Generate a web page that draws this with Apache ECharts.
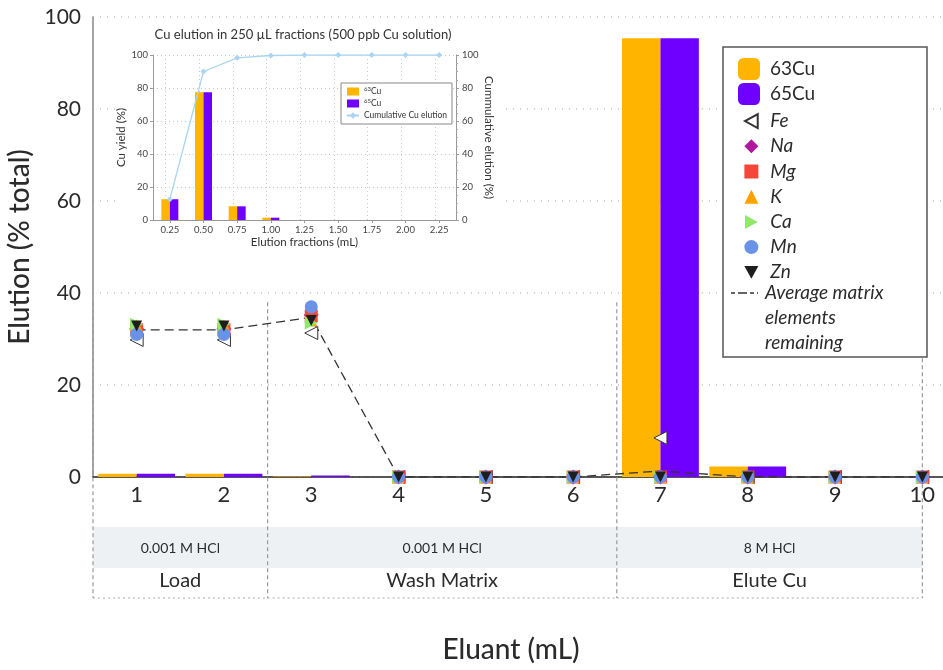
<!DOCTYPE html>
<html><head><meta charset="utf-8">
<script src="https://cdn.jsdelivr.net/npm/echarts@6/dist/echarts.min.js"></script>
<style>html,body{margin:0;padding:0;background:#fff}#c{width:943px;height:670px}</style>
</head><body><div id="c"></div>
<script>
// ---------- data ----------
const categories = ['1','2','3','4','5','6','7','8','9','10'];
const cu63 = [0.7, 0.7, 0.1, 0, 0, 0, 95.4, 2.3, 0, 0];
const cu65 = [0.7, 0.7, 0.3, 0, 0, 0, 95.4, 2.3, 0, 0];
const fe = [29.8, 29.8, 31.3, 0, 0, 0, 8.5, 0, 0, 0];
const na = [32.2, 32.2, 35.2, 0, 0, 0, 0, 0, 0, 0];
const mg = [32.0, 32.0, 35.0, 0, 0, 0, 0, 0, 0, 0];
const k  = [33.0, 33.0, 34.0, 0, 0, 0, 0, 0, 0, 0];
const ca = [33.2, 33.2, 33.5, 0, 0, 0, 0, 0, 0, 0];
const mn = [31.0, 31.0, 37.0, 0, 0, 0, 0, 0, 0, 0];
const zn = [32.8, 32.8, 34.0, 0, 0, 0, 0, 0, 0, 0];
const avgMatrix = [32.0, 32.0, 34.7, 0, 0, 0, 1.3, 0, 0, 0];
const yTicks = [0, 20, 40, 60, 80, 100];

const sectionStarts = [0.5, 2.5, 6.5];
const sectionEnds = [2.5, 6.5, 10];
const sectionSolutions = ['0.001 M HCl', '0.001 M HCl', '8 M HCl'];
const sectionNames = ['Load', 'Wash Matrix', 'Elute Cu'];
const bracketTop = 38;

const insetCategories = ['0.25','0.50','0.75','1.00','1.25','1.50','1.75','2.00','2.25'];
const inset63 = [12.6, 77.5, 8.3, 1.4, 0, 0, 0, 0, 0];
const inset65 = [12.6, 77.5, 8.3, 1.4, 0, 0, 0, 0, 0];
const insetCumulative = [12.6, 90, 98.3, 99.7, 100, 100, 100, 100, 100];

// ---------- styles ----------
const FONT = 'Lato, "Noto Sans", sans-serif';
const TXT = '#2b2b2b';
const C63 = '#FFB400', C65 = '#6F00FF';
const AVG_NAME = 'Average matrix elements remaining';
const TRI_LEFT = 'path://M10,0L0,5.5L10,11Z';
const TRI_RIGHT = 'path://M0,0L10,5.5L0,11Z';
const TRI_DOWN = 'path://M0,0L11,0L5.5,10Z';

const elementSeries = [
  {name:'Fe', data:fe, symbol:'triangle', rotate:90, size:13, color:'#fff', border:'#333', bw:1, icon:TRI_LEFT},
  {name:'Na', data:na, symbol:'diamond', rotate:0, size:15, color:'#B0179E', border:null, bw:0, icon:'diamond'},
  {name:'Mg', data:mg, symbol:'rect', rotate:0, size:13, color:'#F4473A', border:null, bw:0, icon:'rect'},
  {name:'K',  data:k,  symbol:'triangle', rotate:0, size:12, color:'#FFA200', border:null, bw:0, icon:'triangle'},
  {name:'Ca', data:ca, symbol:'triangle', rotate:-90, size:13, color:'#8EE86A', border:null, bw:0, icon:TRI_RIGHT},
  {name:'Mn', data:mn, symbol:'circle', rotate:0, size:13, color:'#6A93E8', border:null, bw:0, icon:'circle'},
  {name:'Zn', data:zn, symbol:'triangle', rotate:180, size:11, color:'#1e1e1e', border:null, bw:0, icon:TRI_DOWN}
];

const chart = echarts.init(document.getElementById('c'), null, {renderer:'canvas'});

const series = [
  {name:'63Cu', type:'bar', xAxisIndex:0, yAxisIndex:0, data:cu63, barGap:'0%', barCategoryGap:'12%',
   itemStyle:{color:C63}, z:2},
  {name:'65Cu', type:'bar', xAxisIndex:0, yAxisIndex:0, data:cu65, barGap:'0%', barCategoryGap:'12%',
   itemStyle:{color:C65}, z:2},
  {name:AVG_NAME, type:'line', xAxisIndex:0, yAxisIndex:0, data:avgMatrix, symbol:'none',
   lineStyle:{color:'#333', width:1.3, type:[9,5]}, itemStyle:{color:'#333'}, z:2},
];
elementSeries.forEach(e => {
  series.push({name:e.name, type:'scatter', xAxisIndex:0, yAxisIndex:0, data:e.data,
    symbol:e.symbol, symbolRotate:e.rotate, symbolSize:e.size,
    itemStyle:{color:e.color, borderColor:e.border || e.color, borderWidth:e.bw, opacity:1}, z:3});
});
// section annotation below the axis
series.push({
  type:'custom', xAxisIndex:1, yAxisIndex:0, silent:true, z:1, clip:false,
  data: sectionStarts.map((s, i) => [s, sectionEnds[i]]),
  renderItem: function(params, api) {
    const i = params.dataIndex;
    const p0 = api.coord([api.value(0), 0]);
    const p1 = api.coord([api.value(1), 0]);
    const pt = api.coord([api.value(0), bracketTop]);
    const base = p0[1];
    const mid = (p0[0] + p1[0]) / 2;
    const children = [
      {type:'rect', shape:{x:p0[0], y:base+50, width:p1[0]-p0[0], height:41}, style:{fill:'#EEF1F3'}},
      {type:'line', shape:{x1:p0[0], y1:pt[1], x2:p0[0], y2:base+121}, style:{stroke:'#999', lineWidth:1.2, lineDash:[4,3]}},
      {type:'line', shape:{x1:p0[0], y1:base+121, x2:p1[0], y2:base+121}, style:{stroke:'#aaa', lineWidth:1.2, lineDash:[2,3]}},
      {type:'text', x:mid, y:base+71, style:{text:sectionSolutions[i], fill:TXT, font:'14px ' + FONT, align:'center', verticalAlign:'middle'}},
      {type:'text', x:mid, y:base+104, style:{text:sectionNames[i], fill:TXT, font:'20px ' + FONT, align:'center', verticalAlign:'middle'}}
    ];
    if (i === sectionStarts.length - 1) {
      children.push({type:'line', shape:{x1:p1[0], y1:pt[1], x2:p1[0], y2:base+121}, style:{stroke:'#999', lineWidth:1.2, lineDash:[4,3]}});
    }
    return {type:'group', children:children};
  }
});
// inset
series.push(
  {name:'63Cu', type:'bar', xAxisIndex:2, yAxisIndex:1, data:inset63, barGap:'0%', barWidth:8.5,
   itemStyle:{color:C63}, z:5,
   markLine:{silent:true, symbol:['none','none'], label:{show:false}, z:4, animation:false,
     lineStyle:{type:[1,3], color:'#c8c8c8', width:1},
     data: insetCategories.map(c => ({xAxis:c}))}},
  {name:'65Cu', type:'bar', xAxisIndex:2, yAxisIndex:1, data:inset65, barGap:'0%', barWidth:8.5,
   itemStyle:{color:C65}, z:5},
  {name:'Cumulative Cu elution', type:'line', xAxisIndex:2, yAxisIndex:2, data:insetCumulative,
   symbol:'diamond', symbolSize:6, showSymbol:true,
   lineStyle:{color:'#A9D5F3', width:1.3}, itemStyle:{color:'#A9D5F3'}, z:6}
);

const option = {
  animation:false,
  backgroundColor:'#fff',
  textStyle:{fontFamily:FONT},
  grid:[
    {left:93, top:17, width:873, height:460, outerBoundsMode:'none', containLabel:false},
    {left:153, top:55, width:303, height:165, outerBoundsMode:'none', containLabel:false}
  ],
  xAxis:[
    {type:'category', gridIndex:0, data:categories, boundaryGap:true,
     axisLine:{show:true, lineStyle:{color:'#222', width:1.5}}, axisTick:{show:false},
     axisLabel:{color:TXT, fontSize:22, margin:7, fontFamily:FONT, interval:0},
     splitLine:{show:false}, z:0},
    {type:'value', gridIndex:0, min:0.5, max:10.5, show:false},
    {type:'category', gridIndex:1, data:insetCategories, boundaryGap:true,
     axisLine:{show:true, lineStyle:{color:'#999', width:1}},
     axisTick:{show:true, alignWithLabel:true, length:3, lineStyle:{color:'#999'}},
     axisLabel:{color:'#444', fontSize:9.5, margin:5, fontFamily:FONT, interval:0},
     name:'Elution fractions (mL)', nameLocation:'middle', nameGap:16,
     nameTextStyle:{color:'#333', fontSize:11.5, fontFamily:FONT},
     splitLine:{show:false}, z:3}
  ],
  yAxis:[
    {type:'value', gridIndex:0, min:yTicks[0], max:yTicks[yTicks.length-1], interval:20,
     axisLine:{show:true, lineStyle:{color:'#888', width:1.5}}, axisTick:{show:false},
     axisLabel:{color:TXT, fontSize:21, margin:12, fontFamily:FONT},
     splitLine:{show:true, lineStyle:{color:'#c4c4c4', width:1.5, type:[1,6]}},
     name:'Elution (% total)', nameLocation:'middle', nameGap:50,
     nameTextStyle:{color:TXT, fontSize:28, fontWeight:500, fontFamily:FONT}, z:0},
    {type:'value', gridIndex:1, min:0, max:100, interval:20,
     axisLine:{show:true, lineStyle:{color:'#999', width:1}},
     axisTick:{show:true, length:3, lineStyle:{color:'#999'}},
     axisLabel:{color:'#444', fontSize:9.5, margin:5, fontFamily:FONT},
     splitLine:{show:true, lineStyle:{color:'#c8c8c8', width:1, type:[1,3]}},
     name:'Cu yield (%)', nameLocation:'middle', nameGap:20,
     nameTextStyle:{color:'#333', fontSize:11.5, fontFamily:FONT}, z:3},
    {type:'value', gridIndex:1, min:0, max:100, interval:20, position:'right',
     axisLine:{show:true, lineStyle:{color:'#999', width:1}},
     axisTick:{show:true, length:3, lineStyle:{color:'#999'}},
     minorTick:{show:true, splitNumber:4, length:2, lineStyle:{color:'#aaa'}},
     axisLabel:{color:'#444', fontSize:9.5, margin:6, fontFamily:FONT},
     splitLine:{show:false},
     name:'Cummulative elution (%)', nameLocation:'middle', nameGap:22, nameRotate:-90,
     nameTextStyle:{color:'#333', fontSize:11.5, fontFamily:FONT}, z:3}
  ],
  legend:[
    {orient:'vertical', left:733, top:51.5, itemWidth:22, itemHeight:22, itemGap:0, z:11,
     data:[{name:'63Cu', icon:'roundRect'}, {name:'65Cu', icon:'roundRect'}],
     textStyle:{color:TXT, fontSize:19, fontFamily:FONT, lineHeight:25, padding:[0,0,0,5]},
     selectedMode:false},
    {orient:'vertical', left:739, top:103.5, itemWidth:14, itemHeight:14, itemGap:0, z:11,
     data: elementSeries.map(e => ({name:e.name, icon:e.icon})),
     textStyle:{color:TXT, fontSize:19, fontStyle:'italic', fontFamily:FONT, lineHeight:25.2, padding:[0,0,0,7]},
     selectedMode:false},
    {orient:'vertical', left:341, top:83, itemWidth:12, itemHeight:8, itemGap:1, z:8,
     padding:[3,5,3,5], borderColor:'#888', borderWidth:1, backgroundColor:'#fff',
     data:[{name:'63Cu', icon:'rect'}, {name:'65Cu', icon:'rect'}, {name:'Cumulative Cu elution'}],
     formatter: n => n === '63Cu' ? '{sup|63}Cu' : (n === '65Cu' ? '{sup|65}Cu' : n),
     textStyle:{color:'#333', fontSize:8.5, fontFamily:FONT, lineHeight:11,
       rich:{sup:{fontSize:6, verticalAlign:'top', lineHeight:8, padding:[0,0,3,0], color:'#333', fontFamily:FONT}}},
     selectedMode:false}
  ],
  graphic:[
    {type:'rect', z:1, silent:true, shape:{x:117, y:19, width:385, height:233}, style:{fill:'#fff'}},
    {type:'rect', z:10, silent:true, shape:{x:723, y:47, width:204, height:310}, style:{fill:'#fff', stroke:'#555', lineWidth:1.5}},
    {type:'line', z:11, silent:true, shape:{x1:731, y1:293, x2:758, y2:293}, style:{stroke:'#333', lineWidth:1.3, lineDash:[4,3,9,3]}},
    {type:'text', z:11, silent:true, x:765, y:293, style:{text:'Average matrix', fill:TXT, font:'italic 19px ' + FONT, align:'left', verticalAlign:'middle'}},
    {type:'text', z:11, silent:true, x:765, y:318, style:{text:'elements', fill:TXT, font:'italic 19px ' + FONT, align:'left', verticalAlign:'middle'}},
    {type:'text', z:11, silent:true, x:765, y:343, style:{text:'remaining', fill:TXT, font:'italic 19px ' + FONT, align:'left', verticalAlign:'middle'}},
    {type:'text', z:11, silent:true, x:511, y:650, style:{text:'Eluant (mL)', fill:TXT, font:'500 28px ' + FONT, align:'center', verticalAlign:'middle'}},
    {type:'text', z:11, silent:true, x:303, y:35, style:{text:'Cu elution in 250 µL fractions (500 ppb Cu solution)', fill:'#333', font:'13px ' + FONT, align:'center', verticalAlign:'middle'}}
  ],
  series: series
};
chart.setOption(option);
</script>
</body></html>
